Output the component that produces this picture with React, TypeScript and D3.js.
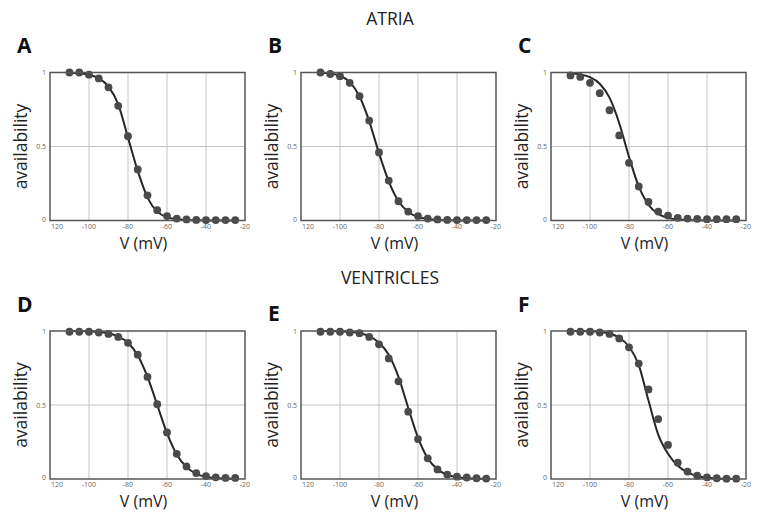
import React from "react";
import * as d3 from "d3";

const voltages = [-110, -105, -100, -95, -90, -85, -80, -75, -70, -65, -60, -55, -50, -45, -40, -35, -30, -25];

const pointsA = [1.0, 1.0, 0.985, 0.96, 0.9, 0.775, 0.57, 0.345, 0.17, 0.07, 0.03, 0.013, 0.007, 0.004, 0.003, 0.003, 0.003, 0.003];
const curveA = [0.998, 0.995, 0.985, 0.96, 0.905, 0.785, 0.56, 0.335, 0.155, 0.06, 0.022, 0.008, 0.003, 0.001, 0, 0, 0, 0];

const pointsB = [1.0, 0.99, 0.975, 0.93, 0.84, 0.675, 0.46, 0.27, 0.13, 0.06, 0.03, 0.013, 0.007, 0.004, 0.003, 0.003, 0.003, 0.003];
const curveB = [0.998, 0.993, 0.978, 0.935, 0.84, 0.67, 0.455, 0.265, 0.13, 0.058, 0.024, 0.01, 0.004, 0.002, 0, 0, 0, 0];

const pointsC = [0.98, 0.97, 0.93, 0.86, 0.745, 0.575, 0.39, 0.23, 0.125, 0.06, 0.033, 0.018, 0.013, 0.011, 0.009, 0.009, 0.009, 0.009];
const curveC = [0.995, 0.987, 0.969, 0.924, 0.83, 0.657, 0.43, 0.23, 0.106, 0.045, 0.018, 0.007, 0.003, 0.001, 0, 0, 0, 0];

const pointsD = [0.995, 0.995, 0.995, 0.99, 0.98, 0.96, 0.92, 0.84, 0.69, 0.505, 0.315, 0.17, 0.085, 0.04, 0.02, 0.011, 0.007, 0.007];
const curveD = [1.0, 1.0, 0.998, 0.995, 0.985, 0.962, 0.92, 0.835, 0.69, 0.5, 0.31, 0.165, 0.08, 0.035, 0.015, 0.006, 0.003, 0.001];

const pointsE = [0.995, 0.995, 0.995, 0.99, 0.985, 0.96, 0.91, 0.815, 0.66, 0.455, 0.27, 0.14, 0.065, 0.03, 0.016, 0.01, 0.005, 0.003];
const curveE = [1.0, 1.0, 0.998, 0.995, 0.985, 0.965, 0.92, 0.84, 0.69, 0.48, 0.28, 0.14, 0.065, 0.028, 0.012, 0.005, 0.002, 0.001];

const pointsF = [0.995, 0.995, 0.995, 0.99, 0.98, 0.95, 0.89, 0.78, 0.605, 0.405, 0.23, 0.11, 0.05, 0.022, 0.011, 0.005, 0.002, 0.002];
const curveF = [1.0, 1.0, 0.998, 0.993, 0.983, 0.955, 0.895, 0.77, 0.53, 0.3, 0.17, 0.09, 0.045, 0.02, 0.008, 0.003, 0.001, 0];

const panelLetters = ["A", "B", "C", "D", "E", "F"];
const panelPoints = [pointsA, pointsB, pointsC, pointsD, pointsE, pointsF];
const panelCurves = [curveA, curveB, curveC, curveD, curveE, curveF];
const groupTitles = ["ATRIA", "VENTRICLES"];

const xTickValues = [-120, -100, -80, -60, -40, -20];
const xTickLabels = ["120", "-100", "-80", "-60", "-40", "-20"];
const yTickValues = [0, 0.5, 1];
const yTickLabels = ["0", "0.5", "1"];
const xGridValues = [-100, -80, -60, -40];
const yGridValues = [0.5];
const xDomain = [-120, -20];
const yDomain = [0, 1];
const xAxisTitle = "V (mV)";
const yAxisTitle = "availability";

const W = 763;
const H = 521;
const colLeft = [50, 301, 551];
const plotW = 195;
const rowTop = [72.5, 331];
const plotH = 148;
const letterX = [17, 268, 518];
const letterY = [[53, 53, 53], [312, 321, 312]];
const titleY = [25, 284];
const titleX = 390;

const FONT = "'Open Sans', 'Liberation Sans', sans-serif";

function Panel({ idx }: { idx: number }) {
  const col = idx % 3;
  const row = Math.floor(idx / 3);
  const left = colLeft[col];
  const top = rowTop[row];
  const x = d3.scaleLinear().domain(xDomain).range([left, left + plotW]);
  const y = d3.scaleLinear().domain(yDomain).range([top + plotH, top]);
  const pts = panelPoints[idx];
  const crv = panelCurves[idx];
  const line = d3
    .line<number>()
    .x((_, i) => x(voltages[i]))
    .y((d) => y(d))
    .curve(d3.curveMonotoneX);

  return (
    <g>
      <text x={letterX[col]} y={letterY[row][col]} fontFamily={FONT} fontWeight={700} fontSize={21} fill="#111">
        {panelLetters[idx]}
      </text>
      <rect x={left} y={top} width={plotW} height={plotH} fill="#fff" />
      {xGridValues.map((v) => (
        <line key={"gx" + v} x1={x(v)} x2={x(v)} y1={top} y2={top + plotH} stroke="#c4c4c4" strokeWidth={1} />
      ))}
      {yGridValues.map((v) => (
        <line key={"gy" + v} x1={left} x2={left + plotW} y1={y(v)} y2={y(v)} stroke="#c4c4c4" strokeWidth={1} />
      ))}
      <path d={line(crv) || ""} fill="none" stroke="#262626" strokeWidth={2} />
      {pts.map((p, i) => (
        <circle key={"p" + i} cx={x(voltages[i])} cy={y(p)} r={3.9} fill="#4a4a4a" />
      ))}
      <rect x={left} y={top} width={plotW} height={plotH} fill="none" stroke="#555" strokeWidth={1.5} />
      {xTickValues.map((v, i) => (
        <text
          key={"xt" + v}
          x={i === 0 ? x(v) + 1 : x(v)}
          y={top + plotH + 8}
          fontFamily={FONT}
          fontSize={7}
          fill="#666"
          textAnchor={i === 0 ? "start" : "middle"}
        >
          {xTickLabels[i]}
        </text>
      ))}
      {yTickValues.map((v, i) => (
        <text
          key={"yt" + v}
          x={left - 4}
          y={y(v) + (i === 0 ? 1 : 2.5)}
          fontFamily={FONT}
          fontSize={7}
          fill="#666"
          textAnchor="end"
        >
          {yTickLabels[i]}
        </text>
      ))}
      <text
        x={left + plotW / 2 - 4}
        y={top + plotH + 28}
        fontFamily={FONT}
        fontSize={16}
        fill="#222"
        textAnchor="middle"
      >
        {xAxisTitle}
      </text>
      <text
        transform={`translate(${left - 23},${top + plotH / 2}) rotate(-90)`}
        fontFamily={FONT}
        fontSize={17.5}
        fill="#222"
        textAnchor="middle"
      >
        {yAxisTitle}
      </text>
    </g>
  );
}

export default function App() {
  return (
    <svg
      width={W}
      height={H}
      viewBox={`0 0 ${W} ${H}`}
      style={{ position: "absolute", left: 0, top: 0, background: "#fff" }}
    >
      <rect x={0} y={0} width={W} height={H} fill="#fff" />
      {groupTitles.map((t, i) => (
        <text key={t} x={titleX} y={titleY[i]} fontFamily={FONT} fontSize={17.5} fill="#222" textAnchor="middle">
          {t}
        </text>
      ))}
      {panelLetters.map((_, i) => (
        <Panel key={i} idx={i} />
      ))}
    </svg>
  );
}
